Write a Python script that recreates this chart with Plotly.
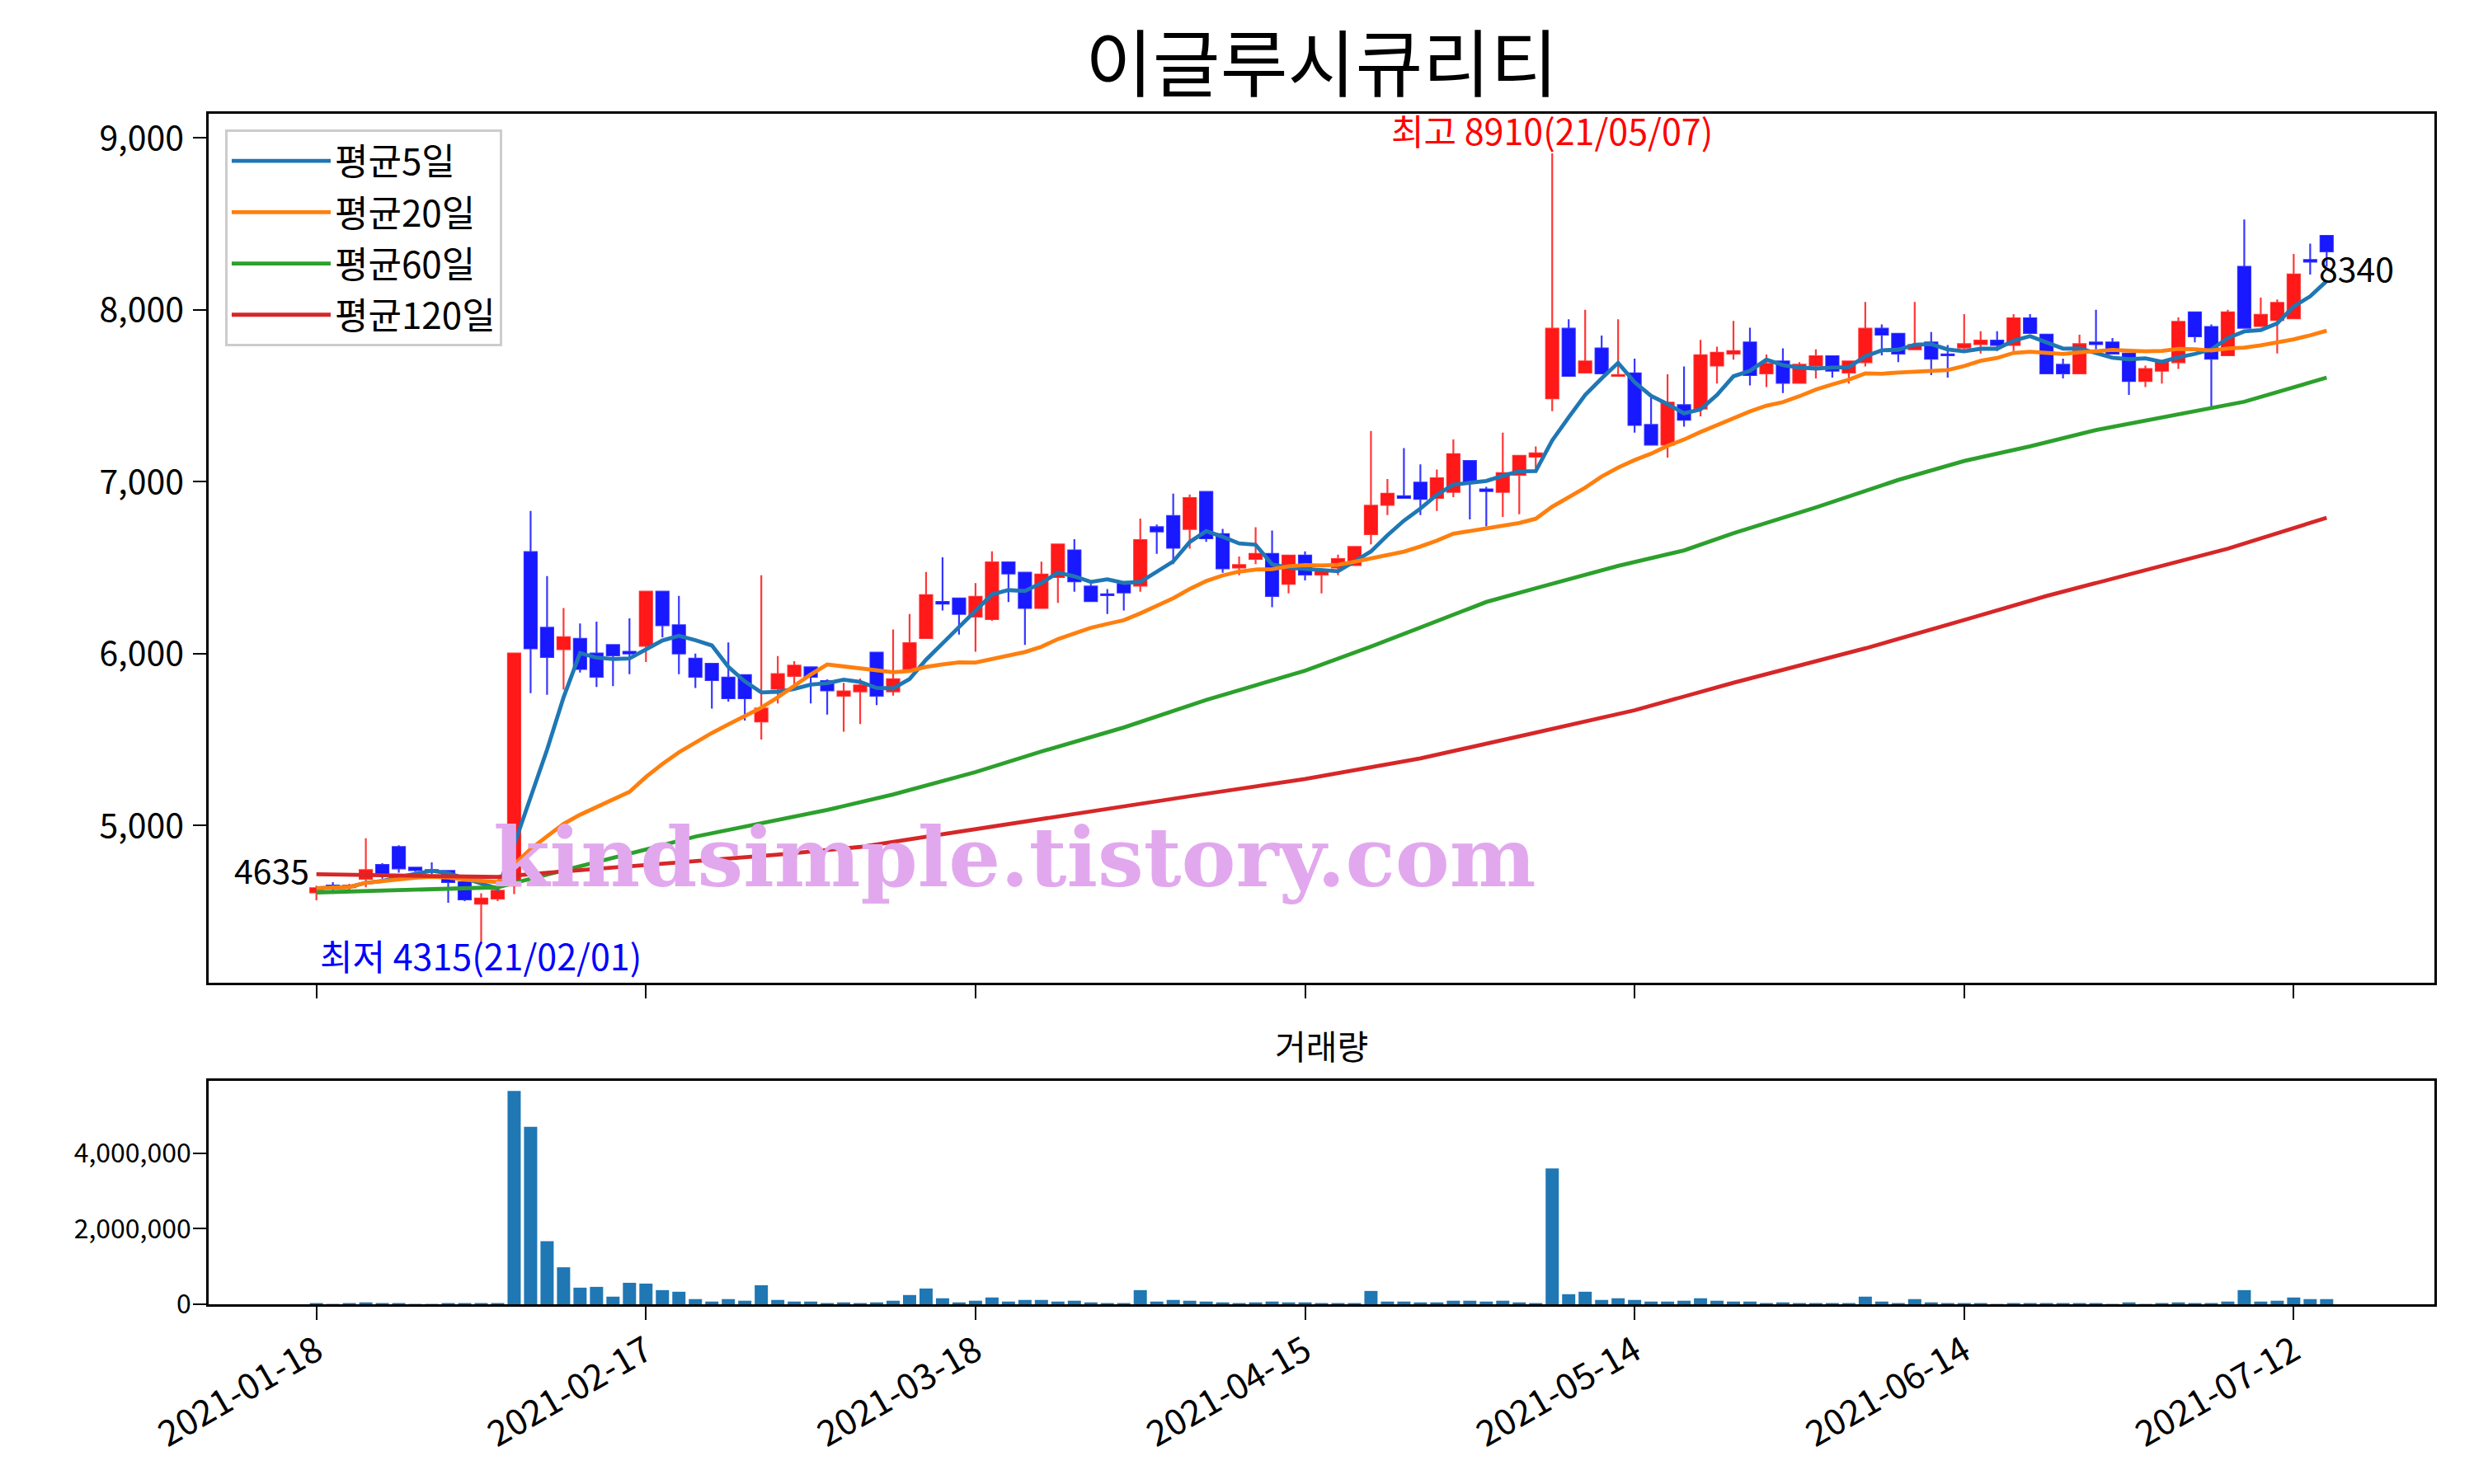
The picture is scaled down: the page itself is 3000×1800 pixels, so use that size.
import plotly.graph_objects as go
import pandas as pd

# ---------------- data ----------------
opens = [4610,4650,4640,4690,4770,4875,4755,4740,4735,4670,4545,4575,4650,6590,6150,6025,6085,6000,6050,6010,
         6045,6360,6165,5970,5940,5860,5875,5605,5795,5870,5920,5840,5755,5780,6005,5780,5910,6090,6300,6320,
         6215,6200,6530,6470,6265,6445,6600,6390,6345,6405,6395,6735,6800,6725,6940,6695,6500,6550,6580,6405,
         6570,6460,6500,6515,6695,6865,6915,6995,6905,6940,7120,6955,6940,7040,7145,7485,7890,7635,7775,7615,
         7630,7330,7215,7445,7425,7675,7745,7810,7630,7700,7575,7675,7730,7635,7695,7890,7860,7770,7810,7740,
         7780,7800,7820,7795,7950,7855,7680,7630,7810,7810,7745,7585,7645,7695,7985,7900,7735,8250,7905,7940,
         7950,8290,8430]
highs = [4650,4670,4660,4925,4780,4885,4760,4785,4740,4680,4605,4640,6000,6830,6450,6265,6175,6185,6050,6205,
         6360,6360,6335,6000,5945,6065,5880,6455,5985,5955,5920,5850,5830,5855,6005,6140,6230,6475,6560,6320,
         6410,6595,6530,6470,6535,6640,6665,6405,6375,6410,6785,6750,6930,6925,6945,6725,6565,6735,6715,6570,
         6595,6480,6575,6620,7295,7015,7195,7100,7070,7245,7120,6970,7285,7150,7205,8910,7945,8000,7850,7945,
         7715,7495,7625,7670,7825,7785,7935,7895,7740,7775,7695,7770,7730,7700,8045,7915,7860,8045,7870,7795,
         7975,7875,7875,7975,7975,7860,7715,7855,8000,7835,7750,7675,7700,7955,7985,7915,8000,8525,8070,8060,
         8325,8385,8430]
lows = [4565,4620,4625,4640,4690,4725,4730,4715,4550,4560,4315,4560,4600,5770,5760,5790,5890,5805,5810,5880,
        5950,6095,5880,5800,5680,5720,5610,5500,5710,5820,5710,5645,5545,5590,5700,5755,5900,6090,6250,6110,
        6010,6190,6300,6050,6260,6295,6360,6300,6230,6250,6360,6580,6520,6610,6650,6470,6455,6520,6270,6350,
        6425,6350,6455,6510,6635,6805,6900,6805,6830,6910,6780,6740,6795,6810,7080,7410,7610,7630,7625,7610,
        7285,7215,7140,7320,7380,7570,7710,7560,7550,7515,7570,7600,7605,7570,7670,7735,7695,7765,7620,7605,
        7760,7745,7760,7760,7860,7630,7600,7630,7770,7740,7505,7550,7570,7655,7810,7430,7735,7890,7900,7745,
        7950,8205,8250]
closes = [4635,4640,4650,4740,4720,4750,4740,4730,4670,4570,4575,4620,6000,6030,5980,6095,5910,5865,5990,6000,
          6360,6165,6000,5865,5845,5740,5740,5680,5880,5930,5865,5785,5780,5815,5755,5850,6060,6340,6290,6230,
          6330,6530,6465,6265,6460,6635,6420,6305,6340,6355,6660,6710,6615,6905,6670,6495,6515,6580,6335,6570,
          6460,6480,6550,6620,6860,6930,6905,6900,7020,7160,6995,6945,7050,7150,7165,7890,7615,7700,7630,7620,
          7330,7215,7460,7360,7735,7750,7760,7620,7685,7575,7680,7730,7645,7700,7890,7855,7745,7795,7715,7735,
          7800,7820,7795,7950,7865,7630,7630,7800,7800,7745,7585,7655,7700,7930,7845,7715,7985,7895,7970,8040,
          8205,8280,8340]
volumes = [15000,8000,12000,50000,12000,30000,10000,8000,12000,15000,20000,18000,
           5650000,4700000,1670000,980000,440000,461000,202000,569000,548000,375000,332000,137000,72000,137000,
           94000,505000,115000,72000,72000,20000,50000,29000,50000,94000,245000,418000,159000,50000,94000,180000,
           72000,115000,115000,72000,94000,50000,20000,29000,375000,72000,115000,94000,72000,50000,29000,50000,
           72000,50000,50000,29000,29000,29000,353000,72000,72000,50000,50000,94000,94000,72000,94000,50000,
           29000,3600000,267000,332000,115000,159000,115000,72000,72000,94000,159000,94000,72000,72000,29000,
           50000,29000,29000,29000,15000,202000,72000,29000,137000,50000,29000,29000,12000,10000,29000,12000,
           29000,29000,29000,12000,10000,50000,10000,12000,50000,12000,29000,72000,375000,72000,94000,180000,
           137000,137000]

# 60/120-day averages (trading-day index, value)
ma60_days = [0,6,11,12,16,20,23,27,31,35,40,44,49,54,60,64,71,74,79,83,86,91,96,100,104,108,113,117,122]
ma60_vals = [4610,4625,4640,4665,4760,4860,4935,5010,5090,5180,5310,5430,5570,5730,5900,6040,6300,6380,
             6510,6600,6700,6850,7010,7120,7205,7300,7390,7465,7605]
ma120_days = [0,6,11,14,18,23,28,33,40,46,53,60,67,74,80,86,94,100,105,110,116,122]
ma120_vals = [4716,4710,4700,4725,4755,4790,4830,4875,4980,5070,5170,5270,5390,5540,5670,5830,6030,6195,
              6335,6460,6610,6790]

tick_pos = [0, 20, 40, 60, 80, 100, 120]
tick_labels = ["2021-01-18", "2021-02-17", "2021-03-18", "2021-04-15", "2021-05-14", "2021-06-14", "2021-07-12"]

title_text = "이글루시큐리티"
hi_idx, lo_idx = 75, 10

# ---------------- figure ----------------
idx = list(range(len(closes)))
cs = pd.Series(closes)
ma5 = cs.rolling(5, min_periods=1).mean()
ma20 = cs.rolling(20, min_periods=1).mean()

FONT = "Noto Sans CJK KR"
FS = 41

fig = go.Figure()
fig.add_trace(go.Candlestick(
    x=idx, open=opens, high=highs, low=lows, close=closes,
    increasing=dict(line=dict(color="rgba(255,20,20,0.85)", width=2.2), fillcolor="rgba(255,0,0,0.9)"),
    decreasing=dict(line=dict(color="rgba(20,20,255,0.85)", width=2.2), fillcolor="rgba(0,0,255,0.9)"),
    whiskerwidth=0, showlegend=False, xaxis="x", yaxis="y", hoverinfo="skip"))

colors = ["#1f77b4", "#ff7f0e", "#2ca02c", "#d62728"]
LW = 4.8
fig.add_trace(go.Scatter(x=idx, y=ma5, mode="lines", name="평균5일", legendgroup="a",
                         line=dict(color=colors[0], width=LW)))
fig.add_trace(go.Scatter(x=idx, y=ma20, mode="lines", name="평균20일", legendgroup="b",
                         line=dict(color=colors[1], width=LW)))
fig.add_trace(go.Scatter(x=ma60_days, y=ma60_vals, mode="lines", name="평균60일", legendgroup="c",
                         line=dict(color=colors[2], width=LW)))
fig.add_trace(go.Scatter(x=ma120_days, y=ma120_vals, mode="lines", name="평균120일", legendgroup="d",
                         line=dict(color=colors[3], width=LW)))

fig.add_trace(go.Bar(x=idx, y=volumes, width=0.8, marker=dict(color="#1f77b4", line=dict(width=0)),
                     showlegend=False, xaxis="x2", yaxis="y2"))

def axis_common(fs, standoff):
    return dict(showline=True, mirror=True, linecolor="black", linewidth=2.6, showgrid=False,
                zeroline=False, ticks="outside", ticklen=16, tickwidth=2.4, tickcolor="black",
                ticklabelstandoff=standoff, tickfont=dict(family=FONT, size=fs, color="black"))

xr = [-6.54, 128.54]
fig.update_layout(
    width=3000, height=1800,
    margin=dict(l=245, r=56, t=130, b=226),
    paper_bgcolor="white", plot_bgcolor="white",
    boxgap=0.25, boxgroupgap=0,
    font=dict(family=FONT, size=FS, color="black"),
    title=dict(text=title_text, x=0.5, xref="paper", xanchor="center", y=0.9608, yref="container",
               yanchor="middle", font=dict(family=FONT, size=89, color="black")),
    xaxis=dict(domain=[0, 1], anchor="y", range=xr, tickvals=tick_pos, showticklabels=False,
               rangeslider=dict(visible=False), **axis_common(FS, 3)),
    yaxis=dict(domain=[0.2701, 1], anchor="x", range=[4085, 9140], tickvals=[5000, 6000, 7000, 8000, 9000],
               tickformat=",d", **axis_common(FS, 3)),
    xaxis2=dict(domain=[0, 1], anchor="y2", range=xr, tickvals=tick_pos, ticktext=tick_labels,
                tickangle=-30, **axis_common(43, -4)),
    yaxis2=dict(domain=[0, 0.188], anchor="x2", range=[0, 5.93e6], tickvals=[0, 2e6, 4e6],
                ticktext=["0", "2,000,000", "4,000,000"], **axis_common(32, -4)),
    legend=dict(x=0.0074, y=0.9868, xanchor="left", yanchor="top", bgcolor="rgba(255,255,255,0.8)",
                bordercolor="#cccccc", borderwidth=3, font=dict(family=FONT, size=44),
                itemwidth=120, tracegroupgap=2),
    showlegend=True,
)

fig.add_annotation(x=hi_idx, y=highs[hi_idx], xref="x", yref="y", showarrow=False,
                   text=f"최고 {highs[hi_idx]}(21/05/07)", xanchor="center", yanchor="bottom", yshift=-3,
                   font=dict(family=FONT, size=43, color="red"), borderpad=0)
fig.add_annotation(x=lo_idx, y=lows[lo_idx], xref="x", yref="y", showarrow=False,
                   text=f"최저 {lows[lo_idx]}(21/02/01)", xanchor="center", yanchor="top", yshift=18,
                   font=dict(family=FONT, size=43, color="blue"), borderpad=0)
fig.add_annotation(x=0, y=closes[0], xref="x", yref="y", showarrow=False, text=str(closes[0]),
                   xanchor="right", yanchor="bottom", xshift=-8, yshift=-8,
                   font=dict(family=FONT, size=FS, color="black"), borderpad=0)
fig.add_annotation(x=idx[-1], y=closes[-1], xref="x", yref="y", showarrow=False, text=str(closes[-1]),
                   xanchor="left", yanchor="top", xshift=-10, yshift=12,
                   font=dict(family=FONT, size=FS, color="black"), borderpad=0)
fig.add_annotation(x=0.5, y=0.2184, xref="paper", yref="paper", showarrow=False, text="거래량",
                   xanchor="center", yanchor="middle", font=dict(family=FONT, size=FS, color="black"))
fig.add_annotation(x=10.65, y=4812, xref="x", yref="y", showarrow=False, text="<b>kindsimple.tistory.com</b>",
                   xanchor="left", yanchor="middle",
                   font=dict(family="DejaVu Serif", size=99, color="rgba(226,168,238,1)"))

fig.write_html("out.html")
